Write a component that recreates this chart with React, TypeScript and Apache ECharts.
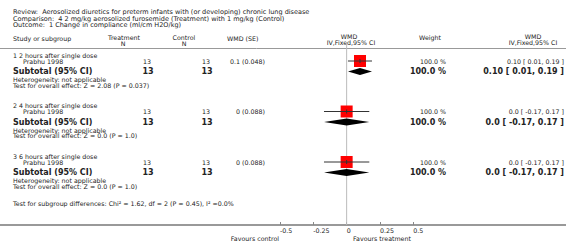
import React, { useEffect, useRef } from "react";
import * as echarts from "echarts";

// ---------- data ----------
const reviewTitle = "Review:  Aerosolized diuretics for preterm infants with (or developing) chronic lung disease";
const comparisonTitle = "Comparison:  4 2 mg/kg aerosolized furosemide (Treatment) with 1 mg/kg (Control)";
const outcomeTitle = "Outcome:  1 Change in compliance (ml/cm H2O/kg)";

const groupNames = ["1 2 hours after single dose", "2 4 hours after single dose", "3 6 hours after single dose"];
const studyNames = ["Prabhu 1998", "Prabhu 1998", "Prabhu 1998"];
const treatmentN = [13, 13, 13];
const controlN = [13, 13, 13];
const wmdSeText = ["0.1 (0.048)", "0 (0.088)", "0 (0.088)"];
const wmd = [0.1, 0, 0];
const ciLow = [0.01, -0.17, -0.17];
const ciHigh = [0.19, 0.17, 0.17];
const weightPct = [100, 100, 100];
const ciText = ["0.10 [ 0.01, 0.19 ]", "0.0 [ -0.17, 0.17 ]", "0.0 [ -0.17, 0.17 ]"];
const overallZ = ["2.08", "0.0", "0.0"];
const overallP = ["0.037", "1.0", "1.0"];
const heterogeneity = "Heterogeneity: not applicable";
const subgroupTest = "Test for subgroup differences: Chi\u00b2 = 1.62, df = 2 (P = 0.45), I\u00b2 =0.0%";
const axisTicks = [-0.5, -0.25, 0, 0.25, 0.5];
const favoursLeft = "Favours control";
const favoursRight = "Favours treatment";

// ---------- layout ----------
const W = 566;
const H = 249;
const GRID_TOP = 42;
const AXIS_Y = 225;
const GRID_LEFT = 280;
const GRID_W = 133.3;
const GROUP_TOP = 55;
const GROUP_STEP = 50.5;
const OFF = { title: 0, study: 6, subtotal: 16.5, het: 24.5, test: 30 };
const FONT = "'DejaVu Sans', Verdana, sans-serif";
const titleFont = `6.5px ${FONT}`;
const small = `6.3px ${FONT}`;
const bold = `bold 8px ${FONT}`;
const TXT = "#222";

const rowPx = (g: number, key: keyof typeof OFF) => GROUP_TOP + g * GROUP_STEP + OFF[key];
const rowVal = (g: number, key: keyof typeof OFF) => rowPx(g, key) - GRID_TOP;

function txt(text: string, x: number, y: number, font: string, align = "left", fill = TXT) {
  return {
    type: "text",
    silent: true,
    style: {
      text, x, y, font, fill,
      textAlign: align, align,
      textVerticalAlign: "middle", verticalAlign: "middle",
    },
  };
}

export default function App() {
  const ref = useRef<HTMLDivElement>(null);
  useEffect(() => {
    document.body.style.margin = "0";
    if (!ref.current) return;
    const chart = echarts.init(ref.current, undefined, { renderer: "svg" });

    const texts: any[] = [
      txt(reviewTitle, 13, 12, titleFont),
      txt(comparisonTitle, 13, 18.5, titleFont),
      txt(outcomeTitle, 13, 25, titleFont),
      txt("Study or subgroup", 13, 38, small),
      txt("Treatment", 124, 37, small, "center"),
      txt("N", 123, 43.5, small, "center"),
      txt("Control", 184, 37, small, "center"),
      txt("N", 184, 43.5, small, "center"),
      txt("WMD (SE)", 227, 38, small),
      txt("WMD", 349, 36, small, "center"),
      txt("IV,Fixed,95% CI", 351, 42.5, small, "center"),
      txt("Weight", 430, 37.5, small, "center"),
      txt("WMD", 533, 36, small, "center"),
      txt("IV,Fixed,95% CI", 533, 42.5, small, "center"),
      txt(subgroupTest, 13, 203, small),
      txt(favoursLeft, 279, 238, small, "right"),
      txt(favoursRight, 353, 238, small, "left"),
    ];
    groupNames.forEach((name, g) => {
      texts.push(txt(name, 13, rowPx(g, "title"), small));
      texts.push(txt(studyNames[g], 23, rowPx(g, "study"), small));
      texts.push(txt(String(treatmentN[g]), 147, rowPx(g, "study"), small, "center"));
      texts.push(txt(String(controlN[g]), 206, rowPx(g, "study"), small, "center"));
      texts.push(txt(wmdSeText[g], 265, rowPx(g, "study"), small, "right"));
      texts.push(txt(weightPct[g].toFixed(1) + " %", 446, rowPx(g, "study"), small, "right"));
      texts.push(txt(ciText[g], 564, rowPx(g, "study"), small, "right"));
      texts.push(txt("Subtotal (95% CI)", 13, rowPx(g, "subtotal"), bold));
      texts.push(txt(String(treatmentN[g]), 148, rowPx(g, "subtotal"), bold, "center"));
      texts.push(txt(String(controlN[g]), 207, rowPx(g, "subtotal"), bold, "center"));
      texts.push(txt(weightPct[g].toFixed(1) + " %", 446, rowPx(g, "subtotal"), bold, "right"));
      texts.push(txt(ciText[g], 564, rowPx(g, "subtotal"), bold, "right"));
      texts.push(txt(heterogeneity, 13, rowPx(g, "het"), small));
      texts.push(txt(`Test for overall effect: Z = ${overallZ[g]} (P = ${overallP[g]})`, 13, rowPx(g, "test"), small));
    });

    const lines: any[] = [
      { type: "line", silent: true, shape: { x1: 0, y1: 48.5, x2: W, y2: 48.5 }, style: { stroke: "#999", lineWidth: 1 } },
      { type: "line", silent: true, shape: { x1: 0, y1: AXIS_Y, x2: W, y2: AXIS_Y }, style: { stroke: "#999", lineWidth: 1.8 } },
    ];

    const forestData = groupNames.map((_, g) => [g]);

    chart.setOption({
      animation: false,
      grid: { left: GRID_LEFT, width: GRID_W, top: GRID_TOP, height: AXIS_Y - GRID_TOP },
      xAxis: {
        type: "value",
        position: "bottom",
        min: -0.5,
        max: 0.5,
        interval: 0.25,
        splitLine: { show: false },
        axisLine: { show: false, onZero: false },
        axisTick: { show: true, inside: true, length: 3, lineStyle: { color: "#888", width: 1 } },
        axisLabel: {
          show: true,
          fontSize: 6.3,
          fontFamily: FONT,
          color: TXT,
          align: "left",
          margin: 2,
          customValues: axisTicks,
          formatter: (v: number) => String(v),
        },
      },
      yAxis: {
        type: "value",
        min: 0,
        max: AXIS_Y - GRID_TOP,
        inverse: true,
        show: false,
      },
      series: [
        {
          type: "line",
          silent: true,
          symbol: "none",
          lineStyle: { color: "#bbb", width: 1 },
          data: [[0, 0], [0, AXIS_Y - GRID_TOP]],
          z: 1,
        },
        {
          type: "custom",
          silent: true,
          z: 3,
          data: forestData,
          renderItem: (params: any, api: any) => {
            const g = api.value(0);
            const ys = rowVal(g, "study");
            const yt = rowVal(g, "subtotal");
            const pL = api.coord([ciLow[g], ys]);
            const pR = api.coord([ciHigh[g], ys]);
            const pM = api.coord([wmd[g], ys]);
            const size = 12 * Math.sqrt(weightPct[g] / 100);
            const dL = api.coord([ciLow[g], yt]);
            const dR = api.coord([ciHigh[g], yt]);
            const dM = api.coord([wmd[g], yt]);
            const hh = 3.5;
            return {
              type: "group",
              children: [
                { type: "rect", shape: { x: pM[0] - size / 2, y: pM[1] - size / 2, width: size, height: size }, style: { fill: "#ff0000" } },
                { type: "line", shape: { x1: pL[0], y1: pL[1], x2: pR[0], y2: pR[1] }, style: { stroke: "#333", lineWidth: 1 } },
                { type: "line", shape: { x1: pM[0], y1: pM[1] - 2, x2: pM[0], y2: pM[1] + 2 }, style: { stroke: "#333", lineWidth: 1 } },
                {
                  type: "polygon",
                  shape: { points: [[dL[0], dL[1]], [dM[0], dM[1] - hh], [dR[0], dR[1]], [dM[0], dM[1] + hh]] },
                  style: { fill: "#000" },
                },
              ],
            };
          },
        },
      ],
      graphic: [...lines, ...texts],
    });
    return () => chart.dispose();
  }, []);
  return <div ref={ref} style={{ width: W, height: H, background: "#fff" }} />;
}
